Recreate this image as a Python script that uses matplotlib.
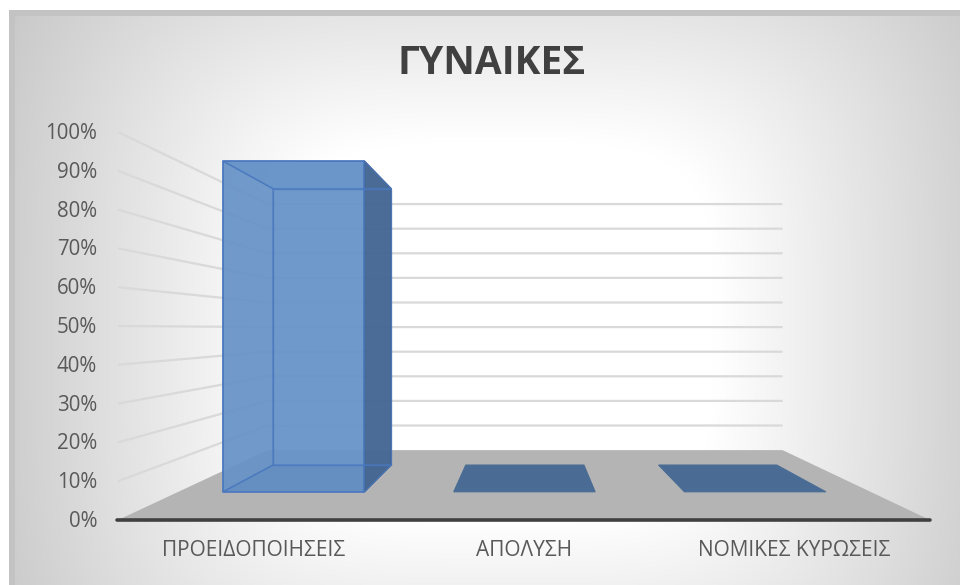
import numpy as np
import matplotlib
matplotlib.use("Agg")
import matplotlib.pyplot as plt
from matplotlib.patches import Polygon, Rectangle

# ---------------- data ----------------
title = "ΓΥΝΑΙΚΕΣ"
categories = ["ΠΡΟΕΙΔΟΠΟΙΗΣΕΙΣ", "ΑΠΟΛΥΣΗ", "ΝΟΜΙΚΕΣ ΚΥΡΩΣΕΙΣ"]
values = [1.00, 0.00, 0.00]
y_ticks = [0.0, 0.1, 0.2, 0.3, 0.4, 0.5, 0.6, 0.7, 0.8, 0.9, 1.0]
y_tick_labels = ["0%", "10%", "20%", "30%", "40%", "50%", "60%", "70%", "80%", "90%", "100%"]

# ---------------- 3D perspective layout (pixels) ----------------
W, H = 960, 585
X0, X1 = 118.0, 930.0     # front plane category span
Y0, HGT = 520.0, 388.0    # front plane 0% baseline and height of 100%
VPX, VPY = 527.0, 329.0   # vanishing point
K = 0.577                 # depth foreshortening
BAR_W = 0.613             # bar width in category units
Z_F, Z_B = 0.30, 0.70     # bar depth range
ncat = len(categories)
catw = (X1 - X0) / ncat


def proj(xc, v, z):
    """xc: category coordinate (0..ncat), v: value, z: depth 0..1"""
    s = 1.0 / (1.0 + K * z)
    xf = X0 + xc * catw
    yf = Y0 - v * HGT
    return (VPX + (xf - VPX) * s, VPY + (yf - VPY) * s)


fig = plt.figure(figsize=(W / 100, H / 100), dpi=100)
ax = fig.add_axes([0, 0, 1, 1])
ax.set_xlim(0, W)
ax.set_ylim(H, 0)
ax.axis("off")

# background frame + gradient
ax.add_patch(Rectangle((9, 10), W - 9, H - 10, fc="#c3c3c3", ec="none", zorder=0))
gx, gy = np.meshgrid(np.linspace(15, W, 400), np.linspace(16, H, 300))
dx = np.abs(gx - 500) / 480
dy = np.abs(gy - 330) / 420
t = (dx ** 4 + dy ** 4) ** 0.25
g = 255 - 85 * np.clip(t - 0.45, 0, None)
g = np.clip(g, 200, 255) / 255.0
img = np.dstack([g, g, g])
ax.imshow(img, extent=(15, W, H, 16), aspect="auto", zorder=0.5, interpolation="bilinear")

grid_col = "#d9d9d9"
# gridlines on left wall and back wall
for v in y_ticks[1:]:
    p0 = proj(0, v, 0)
    p1 = proj(0, v, 1)
    p2 = proj(ncat, v, 1)
    ax.plot([p0[0], p1[0], p2[0]], [p0[1], p1[1], p2[1]], color=grid_col, lw=1.6, zorder=1,
            solid_capstyle="butt")

# floor
floor = [proj(0, 0, 0), proj(ncat, 0, 0), proj(ncat, 0, 1), proj(0, 0, 1)]
ax.add_patch(Polygon(floor, closed=True, fc="#b4b4b4", ec="none", zorder=2))

edge_col = "#4a78bf"
for i, v in enumerate(values):
    xa = i + 0.5 - BAR_W / 2
    xb = i + 0.5 + BAR_W / 2
    if v <= 0:
        poly = [proj(xa, 0, Z_F), proj(xb, 0, Z_F), proj(xb, 0, Z_B), proj(xa, 0, Z_B)]
        ax.add_patch(Polygon(poly, closed=True, fc="#4a6c94", ec="#4a6c94", lw=0.8, zorder=3))
        continue

    def c(x, y, z):
        return proj(x, y, z)
    back = [c(xa, 0, Z_B), c(xb, 0, Z_B), c(xb, v, Z_B), c(xa, v, Z_B)]
    left = [c(xa, 0, Z_F), c(xa, 0, Z_B), c(xa, v, Z_B), c(xa, v, Z_F)]
    bottom = [c(xa, 0, Z_F), c(xb, 0, Z_F), c(xb, 0, Z_B), c(xa, 0, Z_B)]
    top = [c(xa, v, Z_F), c(xb, v, Z_F), c(xb, v, Z_B), c(xa, v, Z_B)]
    right = [c(xb, 0, Z_F), c(xb, 0, Z_B), c(xb, v, Z_B), c(xb, v, Z_F)]
    front = [c(xa, 0, Z_F), c(xb, 0, Z_F), c(xb, v, Z_F), c(xa, v, Z_F)]
    ax.add_patch(Polygon(back, closed=True, fc="#5f8cc4", ec="none", alpha=0.55, zorder=3))
    ax.add_patch(Polygon(bottom, closed=True, fc="#4a6c94", ec="none", alpha=0.9, zorder=3.1))
    ax.add_patch(Polygon(left, closed=True, fc="#5f8cc4", ec="none", alpha=0.45, zorder=3.2))
    ax.add_patch(Polygon(top, closed=True, fc="#6a96cc", ec="none", alpha=0.85, zorder=3.3))
    ax.add_patch(Polygon(front, closed=True, fc="#6894c8", ec="none", alpha=0.88, zorder=3.4))
    ax.add_patch(Polygon(right, closed=True, fc="#466892", ec="#3f5f8a", lw=1.0, alpha=0.95, zorder=3.5))
    for poly in (back, left, bottom, top):
        ax.add_patch(Polygon(poly, closed=True, fc="none", ec=edge_col, lw=1.0, alpha=0.75, zorder=3.6))
    ax.add_patch(Polygon(front, closed=True, fc="none", ec=edge_col, lw=1.1, zorder=3.7))

# axis line
a0 = proj(0, 0, 0)
a1 = proj(ncat, 0, 0)
ax.plot([a0[0] - 1, a1[0]], [a0[1], a1[1]], color="#404040", lw=2.6, zorder=4, solid_capstyle="round")

font = "Open Sans"
for v, lab in zip(y_ticks, y_tick_labels):
    p = proj(0, v, 0)
    ax.text(97, p[1] + 1.5, lab, ha="right", va="center", fontsize=14.8, color="#595959",
            family=font, zorder=5)

for i, lab in enumerate(categories):
    p = proj(i + 0.5, 0, 0)
    ax.text(p[0], 551, lab, ha="center", va="center", fontsize=15, color="#595959",
            family=font, zorder=5)

ax.text(492, 63, title, ha="center", va="center", fontsize=28, fontweight="bold",
        color="#404040", family=font, zorder=5)

fig.savefig("out.png", dpi=100)
